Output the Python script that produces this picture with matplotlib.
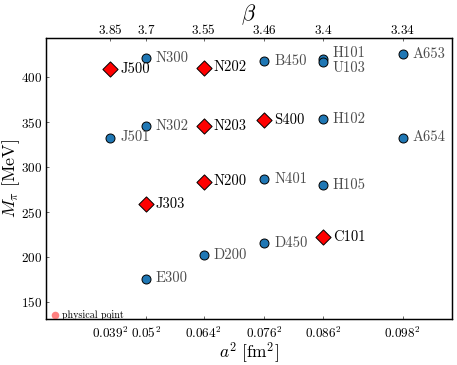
import matplotlib
matplotlib.use("Agg")
import matplotlib.pyplot as plt

plt.rcParams["font.family"] = "serif"
plt.rcParams["font.serif"] = ["cmr10", "DejaVu Serif"]
plt.rcParams["mathtext.fontset"] = "cm"
plt.rcParams["axes.formatter.use_mathtext"] = True

# lattice spacings (fm) and couplings
a_vals = [0.039, 0.05, 0.064, 0.076, 0.086, 0.098]
beta_labels = ["3.85", "3.7", "3.55", "3.46", "3.4", "3.34"]

# ensembles: name, a (fm), M_pi (MeV)
circ_names = ["N300", "J501", "N302", "E300", "D200", "B450", "N401", "D450",
              "H101", "U103", "H102", "H105", "A653", "A654"]
circ_a = [0.05, 0.039, 0.05, 0.05, 0.064, 0.076, 0.076, 0.076,
          0.086, 0.086, 0.086, 0.086, 0.098, 0.098]
circ_m = [422, 333, 346, 176, 202, 418, 287, 216,
          421, 417, 354, 280, 426, 333]

diam_names = ["J500", "N202", "N203", "N200", "J303", "S400", "C101"]
diam_a = [0.039, 0.064, 0.064, 0.064, 0.05, 0.076, 0.086]
diam_m = [409, 411, 346, 284, 259, 353, 222]

phys_a = 0.0
phys_m = 135

fig = plt.figure(figsize=(4.57, 3.65), dpi=100)
ax = fig.add_axes([0.1007, 0.126, 0.888, 0.77])

ax.scatter([a**2 for a in circ_a], circ_m, s=42, color="#1f77b4",
           edgecolor="black", linewidth=0.7, zorder=3)
ax.scatter([a**2 for a in diam_a], diam_m, s=60, marker="D", color="red",
           edgecolor="black", linewidth=0.7, zorder=3)
ax.scatter([phys_a], [phys_m], s=30, color="#ff6b6b", alpha=0.85,
           linewidth=0, zorder=3)
ax.annotate("physical point", (phys_a, phys_m), xytext=(5, 0),
            textcoords="offset points", va="center", ha="left", fontsize=7.2)

offsets = {"H101": 4, "U103": -4}
for n, a, m in zip(circ_names, circ_a, circ_m):
    ax.annotate(n, (a**2, m), xytext=(7, offsets.get(n, 0)),
                textcoords="offset points", va="center", ha="left",
                fontsize=10.5, color="0.3")
for n, a, m in zip(diam_names, diam_a, diam_m):
    ax.annotate(n, (a**2, m), xytext=(7, 0), textcoords="offset points",
                va="center", ha="left", fontsize=10.5, color="black")

ax.set_xlim(-0.00026, 0.01096)
ax.set_ylim(131, 444)
ax.set_xticks([a**2 for a in a_vals])
ax.set_xticklabels([r"$%s^2$" % a for a in a_vals], fontsize=9.5)
ax.set_yticks([150, 200, 250, 300, 350, 400])
ax.tick_params(axis="y", labelsize=9.5, pad=3)
ax.tick_params(axis="x", pad=5)
ax.tick_params(direction="in", length=2.5, width=0.6, color="0.3")
ax.xaxis.get_major_ticks()[0].tick1line.set_visible(False)
ax.set_xlabel(r"$a^2\ [\mathrm{fm}^2]$", fontsize=12.5)
ax.xaxis.set_label_coords(0.5, -0.075)
ax.set_ylabel(r"$M_\pi\ [\mathrm{MeV}]$", fontsize=13)
ax.yaxis.set_label_coords(-0.058, 0.5)

ax2 = ax.twiny()
ax2.set_xlim(ax.get_xlim())
ax2.set_xticks([a**2 for a in a_vals])
ax2.set_xticklabels([r"$%s$" % b for b in beta_labels], fontsize=9.5)
ax2.tick_params(direction="in", length=2.5, width=0.6, color="0.3", pad=1)
ax2.set_xlabel(r"$\beta$", fontsize=16)
ax2.xaxis.set_label_coords(0.5, 1.065)

for sp in list(ax.spines.values()) + list(ax2.spines.values()):
    sp.set_linewidth(0.9)

fig.savefig("out.png", dpi=100)
